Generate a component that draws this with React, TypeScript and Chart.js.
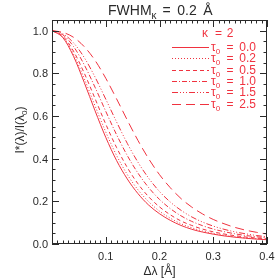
import React, { useEffect, useRef } from "react";
import { Chart, registerables } from "chart.js";

Chart.register(...registerables);

// Δλ [Å] sample positions
const deltaLambda = [0, 0.02, 0.04, 0.06, 0.08, 0.1, 0.12, 0.14, 0.16, 0.18, 0.2, 0.22, 0.24, 0.26, 0.28, 0.3, 0.32, 0.34, 0.36, 0.38, 0.4];

// I*(λ)/I(λ0) for each τ0
const tau00 = [1, 0.968, 0.88, 0.757, 0.625, 0.5, 0.392, 0.305, 0.236, 0.182, 0.142, 0.111, 0.087, 0.069, 0.056, 0.046, 0.038, 0.032, 0.027, 0.023, 0.02];
const tau02 = [1, 0.971, 0.89, 0.775, 0.648, 0.525, 0.416, 0.326, 0.254, 0.198, 0.154, 0.121, 0.095, 0.076, 0.061, 0.05, 0.041, 0.034, 0.029, 0.025, 0.021];
const tau05 = [1, 0.975, 0.904, 0.801, 0.682, 0.562, 0.453, 0.359, 0.282, 0.221, 0.174, 0.137, 0.108, 0.087, 0.07, 0.057, 0.047, 0.039, 0.033, 0.028, 0.024];
const tau10 = [1, 0.981, 0.926, 0.84, 0.735, 0.622, 0.513, 0.415, 0.332, 0.264, 0.209, 0.166, 0.132, 0.106, 0.086, 0.07, 0.058, 0.048, 0.04, 0.034, 0.029];
const tau15 = [1, 0.986, 0.943, 0.874, 0.783, 0.679, 0.573, 0.472, 0.383, 0.308, 0.246, 0.197, 0.158, 0.127, 0.103, 0.084, 0.069, 0.057, 0.048, 0.04, 0.034];
const tau25 = [1, 0.992, 0.969, 0.925, 0.861, 0.777, 0.681, 0.581, 0.485, 0.399, 0.325, 0.264, 0.213, 0.173, 0.141, 0.115, 0.095, 0.078, 0.065, 0.055, 0.047];

const tauLabels = ["0.0", "0.2", "0.5", "1.0", "1.5", "2.5"];
const seriesValues = [tau00, tau02, tau05, tau10, tau15, tau25];
const dashPatterns: number[][] = [[], [1, 2], [4, 3], [5, 2, 1, 2], [6, 2, 1, 2, 1, 2, 1, 2], [9, 5]];

const xTickValues = [0.1, 0.2, 0.3, 0.4];
const xTickLabels = ["0.1", "0.2", "0.3", "0.4"];
const yTickValues = [0, 0.2, 0.4, 0.6, 0.8, 1.0];
const yTickLabels = ["0.0", "0.2", "0.4", "0.6", "0.8", "1.0"];

const RED = "#f0323f";
const INK = "#2a2a2a";
const FONT = "'Liberation Sans', Arial, sans-serif";

type Part = { t: string; sub?: boolean };

function richWidth(ctx: CanvasRenderingContext2D, parts: Part[], fs: number) {
  let w = 0;
  for (const p of parts) {
    ctx.font = `${p.sub ? Math.round(fs * 0.7) : fs}px ${FONT}`;
    w += ctx.measureText(p.t).width;
  }
  return w;
}

function drawRich(ctx: CanvasRenderingContext2D, parts: Part[], x: number, y: number, fs: number, align: "left" | "center" | "right") {
  const w = richWidth(ctx, parts, fs);
  let cx = align === "left" ? x : align === "center" ? x - w / 2 : x - w;
  ctx.textAlign = "left";
  ctx.textBaseline = "alphabetic";
  for (const p of parts) {
    const f = p.sub ? Math.round(fs * 0.7) : fs;
    ctx.font = `${f}px ${FONT}`;
    ctx.fillText(p.t, cx, p.sub ? y + fs * 0.28 : y);
    cx += ctx.measureText(p.t).width;
  }
}

const framePlugin = {
  id: "idlFrame",
  afterDraw(chart: any) {
    const { ctx, chartArea, scales } = chart;
    const { left, right, top, bottom } = chartArea;
    const xs = scales.x;
    const ys = scales.y;
    ctx.save();
    ctx.strokeStyle = INK;
    ctx.lineWidth = 1;
    ctx.setLineDash([]);
    ctx.strokeRect(left + 0.5, top + 0.5, right - left - 1, bottom - top - 1);

    // x ticks (minor every 0.01, major every 0.1), inward on bottom and top
    ctx.beginPath();
    for (let i = 0; i <= 40; i++) {
      const px = Math.round(xs.getPixelForValue(i / 100)) + 0.5;
      const len = i % 10 === 0 ? 7 : 3.5;
      ctx.moveTo(px, bottom);
      ctx.lineTo(px, bottom - len);
      ctx.moveTo(px, top);
      ctx.lineTo(px, top + len);
    }
    // y ticks (minor every 0.05, major every 0.2), inward on left and right
    for (let i = 0; i <= 21; i++) {
      const py = Math.round(ys.getPixelForValue(i * 0.05)) + 0.5;
      const len = i % 4 === 0 ? 7 : 3.5;
      ctx.moveTo(left, py);
      ctx.lineTo(left + len, py);
      ctx.moveTo(right, py);
      ctx.lineTo(right - len, py);
    }
    ctx.stroke();

    ctx.fillStyle = INK;
    ctx.font = `11px ${FONT}`;
    ctx.textBaseline = "alphabetic";
    ctx.textAlign = "center";
    xTickValues.forEach((v, i) => {
      ctx.fillText(xTickLabels[i], xs.getPixelForValue(v), bottom + 16);
    });
    ctx.textAlign = "right";
    yTickValues.forEach((v, i) => {
      ctx.fillText(yTickLabels[i], left - 4, ys.getPixelForValue(v) + 4);
    });

    // title (pieces spaced like the original)
    drawRich(ctx, [{ t: "FWHM" }, { t: "κ", sub: true }], 108, 15, 14, "left");
    drawRich(ctx, [{ t: "=" }], 166.5, 15, 14, "center");
    drawRich(ctx, [{ t: "0.2" }], 187, 15, 14, "center");
    drawRich(ctx, [{ t: "Å" }], 208, 15, 14, "center");
    const midX = (left + right) / 2;
    // x label
    drawRich(ctx, [{ t: "Δλ [Å]" }], midX, 275, 12, "center");
    // y label
    ctx.save();
    ctx.translate(24, (top + bottom) / 2 - 2);
    ctx.rotate(-Math.PI / 2);
    drawRich(ctx, [{ t: "I*(λ)/I(λ" }, { t: "0", sub: true }, { t: ")" }], 0, 0, 12, "center");
    ctx.restore();

    // legend
    ctx.fillStyle = RED;
    drawRich(ctx, [{ t: "κ" }], 202, 37, 12, "left");
    drawRich(ctx, [{ t: "=" }], 218.5, 37, 12, "center");
    drawRich(ctx, [{ t: "2" }], 230, 37, 12, "center");
    chart.data.datasets.forEach((ds: any, i: number) => {
      const ly = Math.round(47 + i * 11.35);
      ctx.strokeStyle = RED;
      ctx.lineWidth = 1;
      ctx.setLineDash(ds.borderDash || []);
      ctx.beginPath();
      ctx.moveTo(172, ly + 0.5);
      ctx.lineTo(209, ly + 0.5);
      ctx.stroke();
      ctx.setLineDash([]);
      drawRich(ctx, [{ t: "τ" }, { t: "0", sub: true }], 211, ly + 4, 12, "left");
      drawRich(ctx, [{ t: "=" }], 230, ly + 4, 12, "center");
      drawRich(ctx, [{ t: tauLabels[i] }], 256, ly + 4, 12, "right");
    });
    ctx.restore();
  },
};

export default function App() {
  const ref = useRef<HTMLCanvasElement | null>(null);
  useEffect(() => {
    document.body.style.margin = "0";
    const canvas = ref.current;
    if (!canvas) return;
    const chart = new Chart(canvas, {
      type: "line",
      data: {
        datasets: seriesValues.map((vals, i) => ({
          label: "τ0 = " + tauLabels[i],
          data: deltaLambda.map((x, j) => ({ x, y: vals[j] })),
          borderColor: RED,
          borderWidth: 1,
          borderDash: dashPatterns[i],
          pointRadius: 0,
          fill: false,
          cubicInterpolationMode: "monotone" as const,
        })),
      },
      options: {
        responsive: false,
        animation: false,
        layout: { padding: { left: 52, right: 13, top: 20, bottom: 36 } },
        plugins: { legend: { display: false }, title: { display: false }, tooltip: { enabled: false } },
        scales: {
          x: { type: "linear", min: 0, max: 0.4, display: false },
          y: { type: "linear", min: 0, max: 1.05, display: false },
        },
      },
      plugins: [framePlugin],
    });
    return () => chart.destroy();
  }, []);
  return (
    <div style={{ width: 280, height: 280, background: "#fff" }}>
      <canvas ref={ref} width={280} height={280} style={{ display: "block", width: 280, height: 280 }} />
    </div>
  );
}
